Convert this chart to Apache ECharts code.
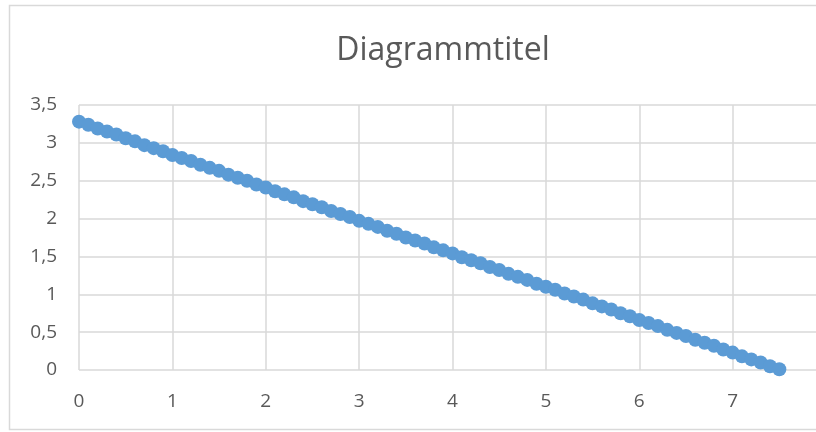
<!DOCTYPE html>
<html><head><meta charset="utf-8">
<script src="https://cdn.jsdelivr.net/npm/echarts@6/dist/echarts.min.js"></script>
<style>html,body{margin:0;padding:0;background:#fff;overflow:hidden;width:816px;height:432px}#c{width:840px;height:432px}</style>
</head><body><div id="c"></div>
<script>
const title = "Diagrammtitel";
const xValues = [0,0.1,0.2,0.3,0.4,0.5,0.6,0.7,0.8,0.9,1,1.1,1.2,1.3,1.4,1.5,1.6,1.7,1.8,1.9,2,2.1,2.2,2.3,2.4,2.5,2.6,2.7,2.8,2.9,3,3.1,3.2,3.3,3.4,3.5,3.6,3.7,3.8,3.9,4,4.1,4.2,4.3,4.4,4.5,4.6,4.7,4.8,4.9,5,5.1,5.2,5.3,5.4,5.5,5.6,5.7,5.8,5.9,6,6.1,6.2,6.3,6.4,6.5,6.6,6.7,6.8,6.9,7,7.1,7.2,7.3,7.4,7.5];
const yValues = [3.28,3.24,3.19,3.15,3.11,3.06,3.02,2.97,2.93,2.89,2.84,2.80,2.76,2.71,2.67,2.63,2.58,2.54,2.50,2.45,2.41,2.36,2.32,2.28,2.23,2.19,2.15,2.10,2.06,2.02,1.97,1.93,1.89,1.84,1.80,1.75,1.71,1.67,1.62,1.58,1.54,1.49,1.45,1.41,1.36,1.32,1.27,1.23,1.19,1.14,1.10,1.06,1.01,0.97,0.93,0.88,0.84,0.80,0.75,0.71,0.66,0.62,0.58,0.53,0.49,0.45,0.40,0.36,0.32,0.27,0.23,0.18,0.14,0.10,0.05,0.01];
const data = xValues.map((x,i)=>[x,yValues[i]]);
const chart = echarts.init(document.getElementById('c'), null, {renderer:'canvas'});
const txt = '#595959';
chart.setOption({
  animation:false,
  backgroundColor:'#fff',
  graphic:[{type:'rect',shape:{x:9.5,y:5.5,width:830,height:424},style:{fill:'none',stroke:'#d9d9d9',lineWidth:1.5}}],
  title:{text:title,top:30,left:438,textAlign:'center',textStyle:{fontFamily:'Open Sans',fontSize:32,fontWeight:'normal',color:txt}},
  grid:{left:79,right:14,top:105,bottom:62,containLabel:false},
  xAxis:{type:'value',min:0,max:8,interval:1,
    axisLine:{show:false},axisTick:{show:false},
    splitLine:{show:true,lineStyle:{color:'#d9d9d9',width:1.5}},
    axisLabel:{color:txt,fontFamily:'Open Sans',fontSize:19,margin:22,showMaxLabel:false}},
  yAxis:{type:'value',min:0,max:3.5,interval:0.5,
    axisLine:{show:false},axisTick:{show:false},
    splitLine:{show:true,lineStyle:{color:'#d9d9d9',width:1.5}},
    axisLabel:{color:txt,fontFamily:'Open Sans',fontSize:19,margin:22,formatter:v=>String(v).replace('.',',')}},
  series:[{type:'line',data:data,symbol:'circle',symbolSize:14,
    itemStyle:{color:'#5b9bd5'},lineStyle:{color:'#5b9bd5',width:4},clip:false}]
});
</script></body></html>
